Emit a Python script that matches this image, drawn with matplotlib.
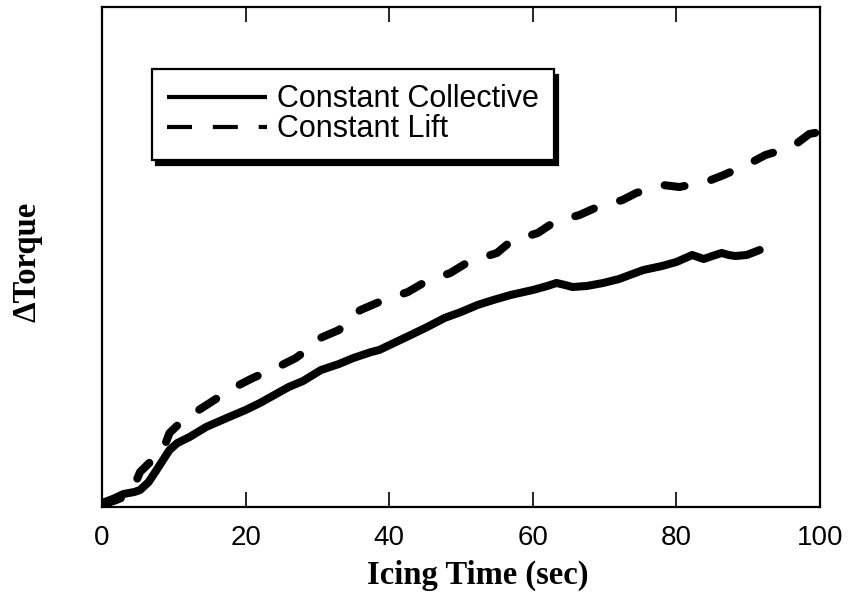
import matplotlib
matplotlib.use("Agg")
import matplotlib.pyplot as plt
from matplotlib.lines import Line2D
import numpy as np

# Data (x in seconds, y in relative torque units 0..1)
cc_x = [0, 1.5, 3, 4.5, 5.3, 6.5, 7.6, 9.4, 10.5, 12.2, 14.5, 17.7, 20, 22, 24, 26, 28, 30.5,
        33, 35, 37.5, 38.6, 43, 45.3, 47.7, 50, 52.3, 54.5, 56.9, 60, 62, 63.3, 64.5, 65.5, 67.5,
        69.8, 72, 75.4, 78, 80, 82.2, 83.8, 85, 86.3, 87.3, 88.2, 89.8, 91.6]
cc_py = [503, 499, 494, 492, 490, 482, 470, 450, 443, 437, 427, 417, 410, 403, 395, 387, 381, 370,
         364, 358, 352, 350, 335, 327, 318, 312, 305, 300, 295, 290, 286, 283, 285, 287, 286,
         283, 279, 270, 266, 262, 255, 259, 256, 253, 255, 256, 255, 250]

cl_x = [0, 2, 4, 5.3, 7, 8.5, 9.4, 11, 12.6, 15, 18, 21, 24.5, 27, 28.5, 30.4, 33, 34.5, 36,
        38.6, 42.6, 45, 48.5, 51, 55, 57, 60.7, 63, 66.5, 69, 72.5, 74.4, 78.1, 80.4, 84.1,
        86.6, 90.3, 92.4, 96.1, 98.5, 100]
cl_py = [505, 500, 494, 472, 460, 450, 433, 422, 414, 403, 389, 378, 367, 358, 350, 338, 330, 318, 310,
         302, 292, 282, 273, 262, 253, 241, 233, 222, 215, 207, 200, 193, 185, 187, 182,
         175, 163, 155, 147, 134, 132]

constant_collective = [(507 - p) / 500 for p in cc_py]
constant_lift = [(507 - p) / 500 for p in cl_py]

xticks = [0, 20, 40, 60, 80, 100]
labels = ["Constant Collective", "Constant Lift"]

fig = plt.figure(figsize=(8.48, 5.97), dpi=100)
ax = fig.add_axes([102 / 848, 1 - 507 / 597, 718 / 848, 500 / 597])

ax.plot(cc_x, constant_collective, color="black", lw=5.8, solid_capstyle="round",
        solid_joinstyle="round")
ax.plot(cl_x, constant_lift, color="black", lw=5.8, dashes=(2.5, 3.4),
        dash_capstyle="round", dash_joinstyle="round")

ax.set_xlim(0, 100)
ax.set_ylim(0, 1)
ax.set_xticks(xticks)
ax.set_xticklabels([str(t) for t in xticks], fontfamily="Liberation Sans", fontsize=20)
ax.set_yticks([])
ax.tick_params(axis="x", direction="in", length=11, width=1.2, top=True, pad=13)
for s in ax.spines.values():
    s.set_linewidth(1.6)

ax.set_xlabel("Icing Time (sec)", fontfamily="Liberation Serif", fontweight="bold", fontsize=23.5)
ax.xaxis.set_label_coords(0.524, -0.105)
ax.set_ylabel("ΔTorque", fontfamily="Liberation Serif", fontweight="bold", fontsize=23.5)
ax.yaxis.set_label_coords(-0.083, 0.49)

handles = [Line2D([], [], color="black", lw=3.0, solid_capstyle="butt"),
           Line2D([], [], color="black", lw=3.0, dashes=(6, 5), dash_capstyle="butt")]
leg = ax.legend(handles, labels, loc="upper left",
                bbox_to_anchor=(152 / 848, 1 - 69 / 597), bbox_transform=fig.transFigure,
                prop={"family": "Liberation Sans", "size": 22},
                handlelength=3.25, handletextpad=0.33, labelspacing=0.0,
                borderpad=0.5, borderaxespad=0, fancybox=False, framealpha=1,
                edgecolor="black",
                shadow={"color": "black", "alpha": 1, "ox": 3, "oy": -4})
leg.get_frame().set_linewidth(1.6)

fig.savefig("out.png", dpi=100)
